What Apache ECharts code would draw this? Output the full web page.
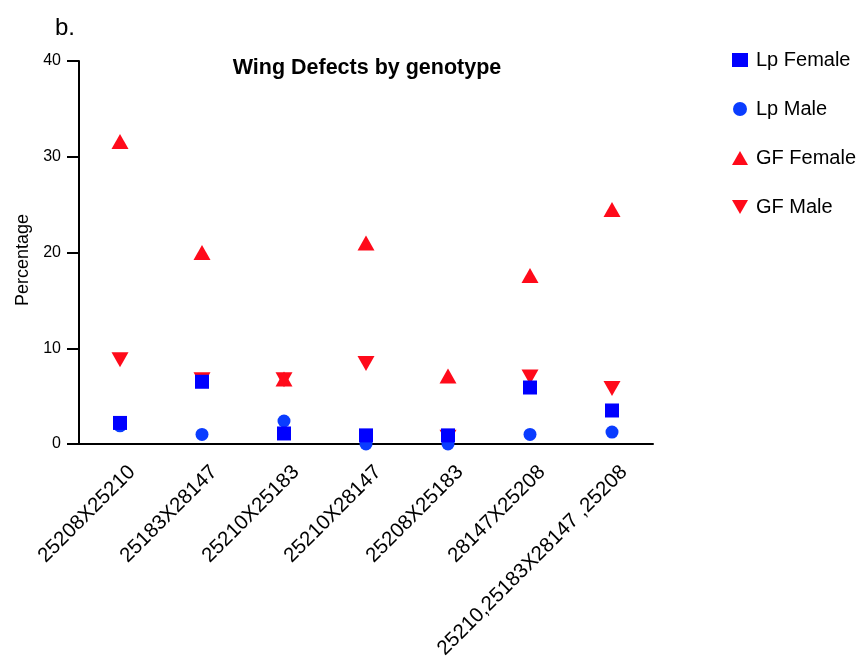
<!DOCTYPE html>
<html>
<head>
<meta charset="utf-8">
<script src="https://cdn.jsdelivr.net/npm/echarts@6/dist/echarts.min.js"></script>
<style>html,body{margin:0;padding:0;background:#fff}#c{width:863px;height:657px}</style>
</head>
<body>
<div id="c"></div>
<script>
var categories = ['25208X25210','25183X28147','25210X25183','25210X28147','25208X25183','28147X25208','25210,25183X28147 ,25208'];
var lpFemale = [2.2, 6.5, 1.1, 0.9, 0.9, 5.9, 3.5];
var lpMale = [1.9, 1.0, 2.4, 0.0, 0.0, 1.0, 1.25];
var gfFemale = [31.6, 20.0, 6.8, 21.0, 7.1, 17.6, 24.5];
var gfMale = [8.8, 6.7, 6.7, 8.4, 0.7, 7.0, 5.8];
var yTicks = [0, 10, 20, 30, 40];

var FONT = '"Liberation Sans", Arial, Helvetica, sans-serif';
var RED = '#ff0a1a';
var chart = echarts.init(document.getElementById('c'), null, {renderer: 'canvas'});
var downTri = 'path://M0,0L20,0L10,17.3Z';
chart.setOption({
  animation: false,
  backgroundColor: '#fff',
  textStyle: {fontFamily: FONT, color: '#000'},
  title: {
    text: 'Wing Defects by genotype',
    left: 362, top: 52, textAlign: 'center',
    textStyle: {fontFamily: FONT, fontSize: 21.5, fontWeight: 'bold', color: '#000'}
  },
  graphic: [
    {type: 'text', left: 55, top: 16, style: {text: 'b.', font: '24px ' + FONT, fill: '#000'}},
    {type: 'text', x: 23, y: 260, rotation: Math.PI / 2,
     style: {text: 'Percentage', font: '18px ' + FONT, fill: '#000', textAlign: 'center', textVerticalAlign: 'middle'}}
  ],
  legend: {
    orient: 'vertical', left: 732, top: 50, padding: 0,
    itemWidth: 16, itemHeight: 14, itemGap: 29,
    data: ['Lp Female', 'Lp Male', 'GF Female', 'GF Male'],
    textStyle: {fontFamily: FONT, fontSize: 20, color: '#000', padding: [0, 0, 0, 3]}
  },
  grid: {left: 79, right: 210, top: 61, bottom: 213, containLabel: false, outerBoundsMode: 'none'},
  xAxis: {
    type: 'category', data: categories, boundaryGap: true,
    axisLine: {lineStyle: {color: '#000', width: 2}},
    axisTick: {alignWithLabel: true, length: 13, lineStyle: {color: '#000', width: 2}},
    axisLabel: {rotate: 45, interval: 0, margin: 13, verticalAlign: 'top', lineHeight: 34,
      fontSize: 20.5, fontFamily: FONT, color: '#000'}
  },
  yAxis: {
    type: 'value', min: 0, max: 40, interval: 10,
    axisLine: {show: true, lineStyle: {color: '#000', width: 2}},
    axisTick: {show: true, length: 12, lineStyle: {color: '#000', width: 2}},
    splitLine: {show: false},
    axisLabel: {margin: 18, fontSize: 16, fontFamily: FONT, color: '#000',
      formatter: function (v) { return yTicks.indexOf(v) >= 0 ? String(v) : ''; }}
  },
  series: [
    {name: 'GF Male', type: 'scatter', data: gfMale, symbol: downTri, symbolSize: [17, 15], itemStyle: {color: RED, opacity: 1}},
    {name: 'GF Female', type: 'scatter', data: gfFemale, symbol: 'triangle', symbolSize: [17, 15], itemStyle: {color: RED, opacity: 1}},
    {name: 'Lp Male', type: 'scatter', data: lpMale, symbol: 'circle', symbolSize: 13, itemStyle: {color: '#0a3cff', opacity: 1}},
    {name: 'Lp Female', type: 'scatter', data: lpFemale, symbol: 'rect', symbolSize: 14, itemStyle: {color: '#0000ff', opacity: 1}}
  ]
});
</script>
</body>
</html>
